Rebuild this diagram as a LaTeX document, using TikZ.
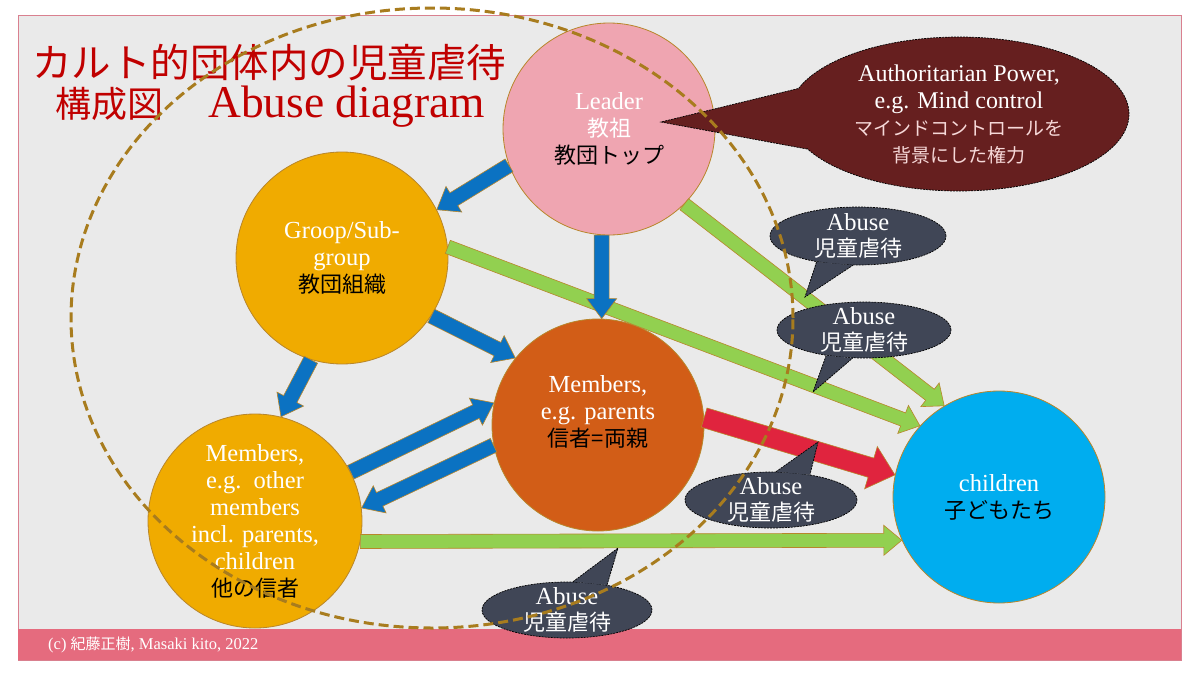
\documentclass[tikz,border=0pt]{standalone}
\usepackage{fontspec}
\setmainfont{Liberation Serif}
\newfontfamily\jp{Noto Sans CJK JP}
\usetikzlibrary{calc,shapes.geometric}
\definecolor{panel}{HTML}{EAEAEA}
\definecolor{frameline}{HTML}{D9808F}
\definecolor{barpink}{HTML}{E56B7E}
\definecolor{leadpink}{HTML}{EFA5B1}
\definecolor{orangec}{HTML}{F0AB00}
\definecolor{parcol}{HTML}{D25D17}
\definecolor{childcol}{HTML}{00ADEF}
\definecolor{blueA}{HTML}{0B72C2}
\definecolor{greenA}{HTML}{92D050}
\definecolor{redA}{HTML}{E0243E}
\definecolor{authcol}{HTML}{661F1F}
\definecolor{slate}{HTML}{404656}
\definecolor{goldline}{HTML}{B8862B}
\definecolor{dashcol}{HTML}{A87C1E}
\definecolor{titlered}{HTML}{C00000}
\definecolor{authpink}{HTML}{F6D8D8}

% block arrow: #1 style, #2 from, #3 to, #4 half shaft, #5 half head, #6 head length
\newcommand{\blockarr}[6]{%
  \coordinate (ba-h) at ($(#3)!#6!(#2)$);
  \filldraw[#1] ($(#2)!#4!90:(#3)$) -- ($(ba-h)!#4!90:(#3)$) -- ($(ba-h)!#5!90:(#3)$) -- (#3)
    -- ($(ba-h)!#5!-90:(#3)$) -- ($(ba-h)!#4!-90:(#3)$) -- ($(#2)!#4!-90:(#3)$) -- cycle;}

\begin{document}
\begin{tikzpicture}[x=1pt,y=-1pt,
  circ/.style={circle, draw=goldline, line width=0.8pt, minimum size=212pt, inner sep=0pt,
    align=center, text=white, font=\fontsize{24.5}{27}\selectfont},
  bubble/.style={ellipse, fill=slate, draw=black, dash pattern=on 2pt off 1pt, line width=0.7pt, inner sep=0pt},
  bubtext/.style={text=white, align=center, font=\fontsize{24.5}{26}\selectfont},
  blueArr/.style={fill=blueA, draw=goldline, line width=0.6pt},
  greenArr/.style={fill=greenA, draw=goldline, line width=0.6pt},
  redArr/.style={fill=redA, draw=goldline, line width=0.6pt},
  dashring/.style={draw=dashcol, line width=3pt, dash pattern=on 10pt off 5pt}]
\useasboundingbox (0,0) rectangle (1200,675);
\fill[white] (0,0) rectangle (1200,675);
\filldraw[fill=panel, draw=frameline, line width=1pt] (18,15) rectangle (1181,660);
\fill[barpink] (18,629) rectangle (1181,660);

% circles
\node[circ, fill=leadpink] (lead) at (609,129)
  {Leader\\{\jp\fontsize{22}{27}\selectfont 教祖}\\{\color{black}\jp\fontsize{22}{27}\selectfont 教団トップ}};
\node[circ, fill=orangec] (grp) at (342,258)
  {Groop/Sub-\\group\\{\color{black}\jp\fontsize{22}{27}\selectfont 教団組織}};
\node[circ, fill=parcol,
  label={[yshift=13pt, align=center, text=white, font=\fontsize{24.5}{27}\selectfont]center:{Members,\\e.g. parents\\{\color{black}\jp\fontsize{22}{27}\selectfont 信者=両親}}}]
  (par) at (598,425) {};
\node[circ, fill=orangec, minimum size=214pt] (oth) at (255,521)
  {Members,\\e.g.\ \ other\\members\\incl. parents,\\children\\{\color{black}\jp\fontsize{22}{27}\selectfont 他の信者}};
\node[circ, fill=childcol] (chi) at (999,497)
  {children\\{\color{black}\jp\fontsize{22}{27}\selectfont 子どもたち}};

% arrows
\blockarr{greenArr}{lead.315}{chi.121}{7pt}{15pt}{18pt}
\blockarr{greenArr}{grp.6}{chi.138}{7pt}{15pt}{18pt}
\blockarr{greenArr}{oth.349}{chi.204}{7pt}{15pt}{18pt}
\blockarr{redArr}{par.4}{chi.168}{10pt}{22pt}{25pt}
\blockarr{blueArr}{lead.200}{grp.27}{7.5pt}{15pt}{20pt}
\blockarr{blueArr}{lead.266}{par.88}{7.5pt}{15pt}{20pt}
\blockarr{blueArr}{grp.327}{par.141}{7.5pt}{15pt}{20pt}
\blockarr{blueArr}{grp.253}{oth.76}{7.5pt}{15pt}{20pt}
\blockarr{blueArr}{oth.27}{par.168}{7.5pt}{15pt}{20pt}
\blockarr{blueArr}{par.191}{oth.7}{7.5pt}{15pt}{20pt}

% authoritarian bubble
\node[ellipse, fill=authcol, draw=black, dash pattern=on 2pt off 1pt, line width=0.7pt, inner sep=0pt,
  minimum width=340pt, minimum height=154pt,
  label={[align=center, text=white, font=\fontsize{24}{27}\selectfont]center:{Authoritarian Power,\\e.g. Mind control\\{\color{authpink}\jp\fontsize{19}{26}\selectfont マインドコントロールを}\\{\color{authpink}\jp\fontsize{19}{26}\selectfont 背景にした権力}}}]
  (auth) at (959,114) {};
\coordinate (authtip) at (661,122);
\fill[authcol] (auth.171) -- (authtip) -- (auth.193) -- cycle;
\draw[black, dash pattern=on 2pt off 1pt, line width=0.7pt] (auth.171) -- (authtip) -- (auth.193);

% abuse bubbles
\newcommand{\abtext}{Abuse\\{\jp\fontsize{22}{26}\selectfont 児童虐待}}
\node[bubble, minimum width=176pt, minimum height=58pt, label={[bubtext]center:{\abtext}}] (ab1) at (858,236) {};
\coordinate (t1) at (805,297);
\fill[slate] (ab1.212) -- (t1) -- (ab1.260) -- cycle;
\draw[black, dash pattern=on 2pt off 1pt, line width=0.7pt] (ab1.212) -- (t1) -- (ab1.260);

\node[bubble, minimum width=174pt, minimum height=56pt, label={[bubtext]center:{\abtext}}] (ab2) at (864,330) {};
\coordinate (t2) at (813,392);
\fill[slate] (ab2.214) -- (t2) -- (ab2.248) -- cycle;
\draw[black, dash pattern=on 2pt off 1pt, line width=0.7pt] (ab2.214) -- (t2) -- (ab2.248);

\node[bubble, minimum width=172pt, minimum height=56pt, label={[bubtext]center:{\abtext}}] (ab3) at (771,500) {};
\coordinate (t3) at (818,442);
\fill[slate] (ab3.80) -- (t3) -- (ab3.33) -- cycle;
\draw[black, dash pattern=on 2pt off 1pt, line width=0.7pt] (ab3.80) -- (t3) -- (ab3.33);

\node[bubble, minimum width=170pt, minimum height=56pt, label={[bubtext]center:{\abtext}}] (ab4) at (567,610) {};
\coordinate (t4) at (618,548);
\fill[slate] (ab4.78) -- (t4) -- (ab4.32) -- cycle;
\draw[black, dash pattern=on 2pt off 1pt, line width=0.7pt] (ab4.78) -- (t4) -- (ab4.32);

% title
\node[anchor=west, text=titlered, inner sep=0pt, font=\jp\fontsize{39.5}{44}\selectfont] (title1) at (32,63) {カルト的団体内の児童虐待};
\node[anchor=west, text=titlered, inner sep=0pt, font=\fontsize{45.5}{48}\selectfont] (title2) at (55,107)
  {{\jp\fontsize{36}{44}\selectfont 構成図}\hspace{45pt}Abuse diagram};

% footer
\node[anchor=west, text=white, inner sep=0pt, font=\fontsize{16.5}{18}\selectfont] (foot) at (48,645)
  {(c) {\jp\fontsize{15}{18}\selectfont 紀藤正樹}, Masaki kito, 2022};

% dashed ring
\draw[dashring] (432,318) ellipse [x radius=361pt, y radius=310pt];
\end{tikzpicture}
\end{document}
